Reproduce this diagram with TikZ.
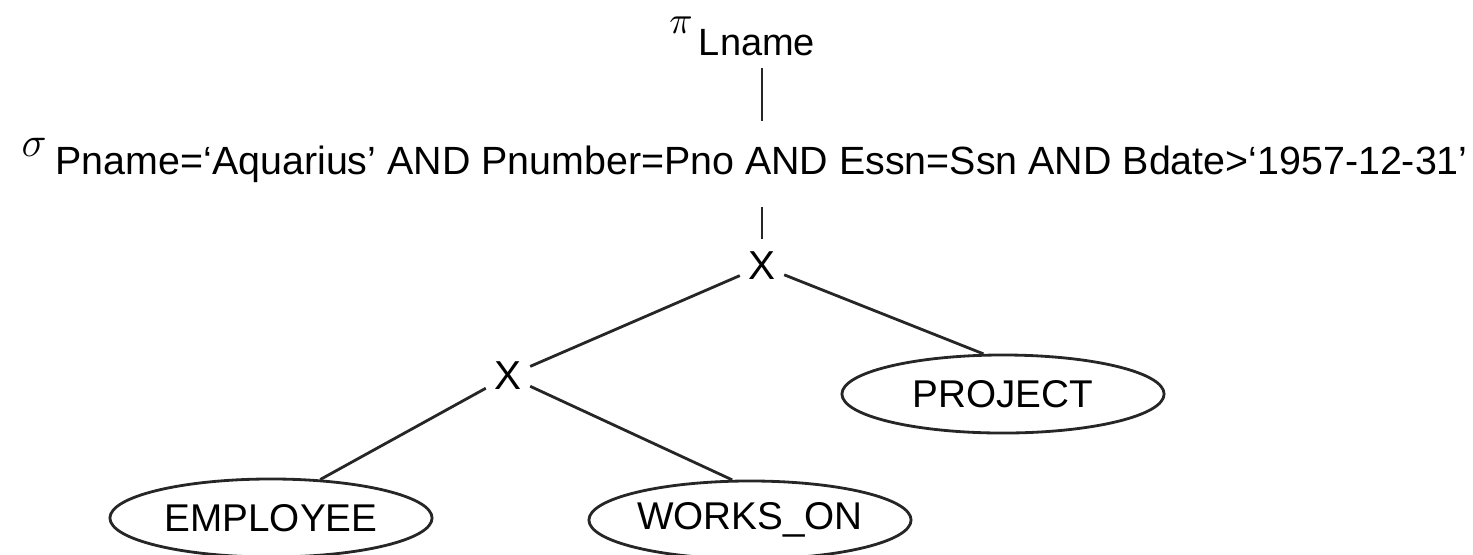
\documentclass[tikz,border=0pt]{standalone}
\usepackage{fontspec}
\setmainfont{Liberation Sans}
\usetikzlibrary{shapes.geometric}

\tikzset{
  relname/.style={draw, ellipse, line width=0.8pt, black!85, text=black,
    minimum width=3.22cm, minimum height=0.78cm, inner sep=0pt,
    font=\fontsize{11}{13}\selectfont},
  prodop/.style={inner xsep=0.08cm, inner ysep=0.12cm,
    font=\fontsize{11.5}{13}\selectfont},
  treeline/.style={line width=0.8pt, black!85},
}

\begin{document}
\begin{tikzpicture}[x=0.01cm, y=-0.01cm]
	\useasboundingbox (0,0) rectangle (1473,554);
	
	% Projektio
	\node[font=\fontsize{11}{13}\selectfont] (pi) at (681,25) {$\pi$};
	\node[anchor=base, inner sep=0.12cm, font=\fontsize{10.8}{13}\selectfont] (lname) at (757,55) {Lname};
	
	% Valinta
	\node[font=\fontsize{12}{14}\selectfont] (sigma) at (34,147) {$\sigma$};
	\node[anchor=base west, inner xsep=0pt, inner ysep=0.24cm, font=\fontsize{11.2}{13}\selectfont] (cond) at (55,174)
		{Pname=‘Aquarius’ AND Pnumber=Pno AND Essn=Ssn AND Bdate>‘1957-12-31’};
	
	% Karteesiset tulot
	\node[prodop] (x1) at (762,266) {X};
	\node[prodop] (x2) at (508,376) {X};
	
	% Relaatiot
	\node[relname] (proj) at (1003,394) {PROJECT};
	\node[relname] (emp) at (271,518) {EMPLOYEE};
	\node[relname] (works) at (750,520) {WORKS\_ON};
	
	% Puun kaaret
	\draw[treeline] (lname.south -| x1) -- (cond.north -| x1);
	\draw[treeline] (cond.south -| x1) -- (x1);
	\draw[treeline] (x1) -- (x2);
	\draw[treeline] (x1) -- (proj.116);
	\draw[treeline] (x2) -- (emp.38);
	\draw[treeline] (x2) -- (works.114);
\end{tikzpicture}
\end{document}
